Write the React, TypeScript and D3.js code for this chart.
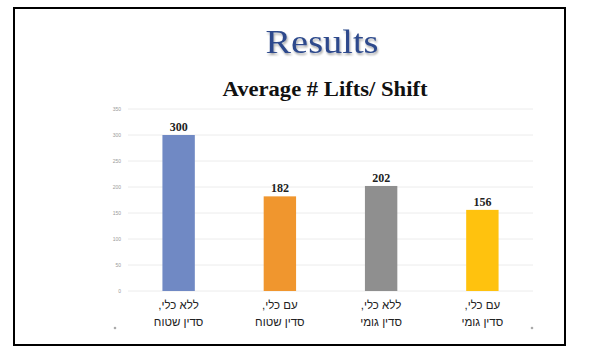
import React from 'react'
import { scaleLinear, scaleBand } from 'd3'

const categories = [
  ['ללא כלי,', 'סדין שטוח'],
  ['עם כלי,', 'סדין שטוח'],
  ['ללא כלי,', 'סדין גומי'],
  ['עם כלי,', 'סדין גומי'],
]
const values = [300, 182, 202, 156]
const colors = ['#7089c4', '#f0962e', '#8f8f8f', '#ffc20e']
const ticks = [0, 50, 100, 150, 200, 250, 300, 350]

function App() {
  const width = 593
  const height = 359
  const plot = { left: 128, right: 533, top: 109, bottom: 291 }

  const x = scaleBand<number>()
    .domain(values.map((_, i) => i))
    .range([plot.left, plot.right])
    .padding(0)
  const y = scaleLinear().domain([0, 350]).range([plot.bottom, plot.top])
  const barW = x.bandwidth() * 0.32

  return (
    <svg width={width} height={height} style={{ position: 'absolute', left: 0, top: 0, background: '#fff' }}>
      <defs>
        <filter id="shadow" x="-10%" y="-20%" width="120%" height="150%">
          <feGaussianBlur in="SourceAlpha" stdDeviation="1.2" />
          <feOffset dx="1" dy="2" result="b" />
          <feComponentTransfer><feFuncA type="linear" slope="0.35" /></feComponentTransfer>
          <feMerge><feMergeNode /><feMergeNode in="SourceGraphic" /></feMerge>
        </filter>
      </defs>
      <rect x={14} y={8} width={551} height={337} fill="none" stroke="#000" strokeWidth={2} />

      <text x={322} y={53} textAnchor="middle" fontFamily="Liberation Serif, serif" fontSize={34}
        fill="#2d4a8c" filter="url(#shadow)" textLength={113} lengthAdjust="spacingAndGlyphs">Results</text>
      <text x={325} y={96} textAnchor="middle" fontFamily="Liberation Serif, serif" fontSize={20}
        fontWeight="bold" fill="#111" textLength={205} lengthAdjust="spacingAndGlyphs">Average # Lifts/ Shift</text>

      {ticks.map(t => (
        <g key={t}>
          <line x1={plot.left} x2={plot.right} y1={y(t)} y2={y(t)} stroke="#ececec" strokeWidth={1} />
          <text x={121} y={y(t) + 2} textAnchor="end" fontFamily="Liberation Sans, sans-serif" fontSize={5}
            fill="#9a9a9a">{t}</text>
        </g>
      ))}

      {values.map((v, i) => {
        const cx = (x(i) as number) + x.bandwidth() / 2
        return (
          <g key={i}>
            <rect x={cx - barW / 2} y={y(v)} width={barW} height={y(0) - y(v)} fill={colors[i]} />
            <text x={cx} y={y(v) - 4} textAnchor="middle" fontFamily="Liberation Serif, serif" fontSize={12}
              fontWeight="bold" fill="#222">{v}</text>
            {categories[i].map((line, j) => (
              <text key={j} x={cx} y={309 + j * 17} textAnchor="middle" direction="rtl"
                fontFamily="Liberation Sans, Arial, sans-serif" fontSize={11.5} fill="#222">{line}</text>
            ))}
          </g>
        )
      })}

      <circle cx={115} cy={328} r={1.3} fill="#aaa" />
      <circle cx={532} cy={328} r={1.3} fill="#aaa" />
    </svg>
  )
}

export default App
